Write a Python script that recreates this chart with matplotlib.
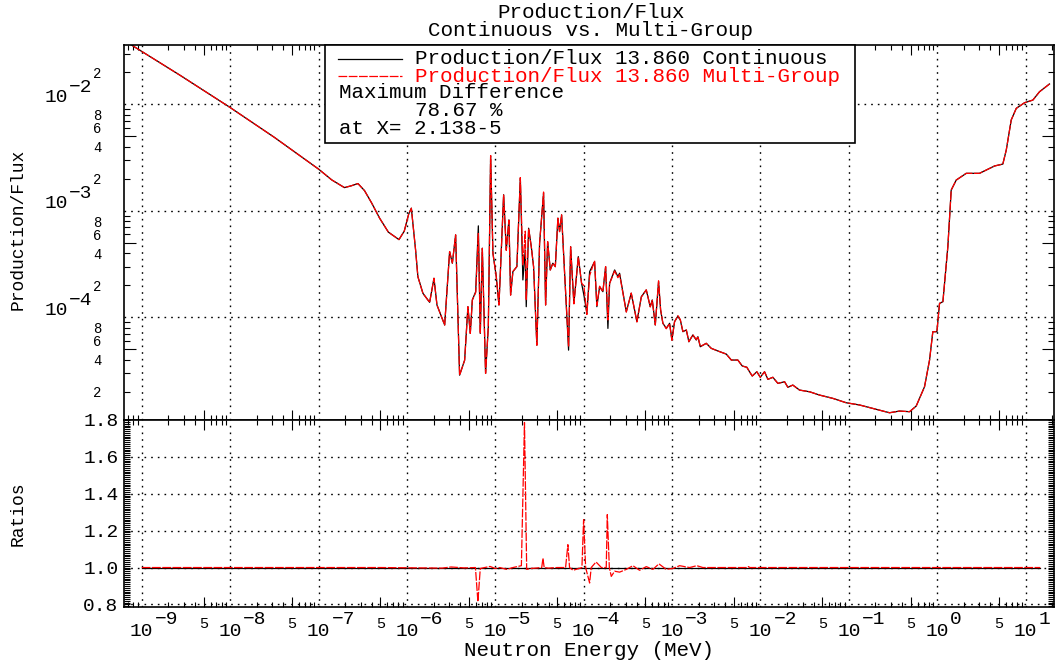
import numpy as np
import matplotlib
matplotlib.use("Agg")
import matplotlib.pyplot as plt
from matplotlib.ticker import FixedLocator, NullFormatter, FuncFormatter, MultipleLocator
from matplotlib.patches import Rectangle
from matplotlib.lines import Line2D

plt.rcParams['font.family'] = ['Liberation Mono', 'DejaVu Sans Mono']

# log10 of neutron energy (MeV) and of production/flux, continuous treatment
log_energy = [
    -9.20, -8.571, -8.0, -7.5, -7.0, -6.85, -6.707, -6.63, -6.554, -6.48,
    -6.40, -6.309, -6.21, -6.09, -6.03, -5.98, -5.950, -5.902, -5.876, -5.819,
    -5.743, -5.694, -5.66, -5.573, -5.517, -5.486, -5.449, -5.404, -5.347, -5.310,
    -5.283, -5.26, -5.222, -5.192, -5.170, -5.147, -5.110, -5.079, -5.053, -5.027,
    -4.989, -4.959, -4.94, -4.906, -4.876, -4.846, -4.827, -4.801, -4.756, -4.717,
    -4.688, -4.661, -4.650, -4.623, -4.593, -4.567, -4.530, -4.499, -4.454, -4.431,
    -4.408, -4.378, -4.349, -4.321, -4.292, -4.273, -4.250, -4.216, -4.171, -4.148,
    -4.111, -4.061, -4.024, -3.998, -3.964, -3.933, -3.877, -3.851, -3.820, -3.783,
    -3.752, -3.726, -3.707, -3.650, -3.613, -3.594, -3.518, -3.462, -3.398, -3.348,
    -3.292, -3.247, -3.224, -3.190, -3.153, -3.130, -3.104, -3.066, -3.028, -3.002,
    -2.972, -2.934, -2.907, -2.878, -2.839, -2.810, -2.765, -2.726, -2.708, -2.681,
    -2.613, -2.557, -2.482, -2.387, -2.330, -2.256, -2.206, -2.154, -2.124, -2.093,
    -2.041, -2.002, -1.954, -1.916, -1.860, -1.803, -1.727, -1.690, -1.634, -1.558,
    -1.444, -1.331, -1.181, -1.030, -0.879, -0.690, -0.540, -0.426, -0.313, -0.238,
    -0.144, -0.087, -0.050, -0.004, 0.026, 0.064, 0.120, 0.158, 0.215, 0.328,
    0.478, 0.554, 0.648, 0.742, 0.781, 0.837, 0.894, 0.988, 1.082, 1.157,
    1.270,
]
log_prod = [
    -1.40, -1.725, -2.03, -2.31, -2.608, -2.71, -2.782, -2.765, -2.744, -2.81,
    -2.925, -3.069, -3.20, -3.27, -3.19, -3.03, -2.975, -3.367, -3.618, -3.774,
    -3.859, -3.633, -3.884, -4.072, -3.383, -3.492, -3.226, -4.543, -4.402, -3.900,
    -4.151, -3.837, -3.759, -3.141, -4.151, -3.351, -4.527, -4.088, -2.483, -3.398,
    -3.618, -3.884, -3.524, -2.849, -3.367, -3.085, -3.790, -3.571, -3.524, -2.692,
    -3.649, -3.367, -3.900, -3.163, -3.336, -3.524, -4.261, -3.304, -2.834, -3.884,
    -3.289, -3.555, -3.492, -3.524, -3.069, -3.195, -3.038, -3.586, -4.308, -3.336,
    -3.868, -3.430, -3.680, -3.790, -3.962, -3.571, -3.477, -3.900, -3.712, -3.759,
    -3.524, -4.104, -3.680, -3.555, -3.618, -3.586, -3.947, -3.774, -4.041, -3.806,
    -3.743, -3.900, -3.837, -4.072, -3.665, -3.931, -4.056, -4.103, -4.056, -4.213,
    -4.041, -3.988, -4.025, -4.135, -4.119, -4.229, -4.166, -4.213, -4.182, -4.276,
    -4.244, -4.291, -4.316, -4.345, -4.401, -4.401, -4.457, -4.469, -4.511, -4.551,
    -4.511, -4.563, -4.511, -4.582, -4.563, -4.620, -4.605, -4.657, -4.636, -4.683,
    -4.699, -4.730, -4.761, -4.802, -4.823, -4.864, -4.896, -4.880, -4.886, -4.833,
    -4.652, -4.401, -4.135, -4.135, -3.869, -3.853, -3.337, -2.805, -2.711, -2.648,
    -2.648, -2.617, -2.579, -2.561, -2.429, -2.147, -2.038, -1.985, -1.960, -1.882,
    -1.809,
]

# multi-group / continuous ratio, log10 energy (MeV)
ratio_log_energy = [
    -9.0, -6.3, -5.6, -5.5, -5.35, -5.225, -5.197, -5.17, -5.12, -5.06,
    -5.0, -4.95, -4.87, -4.80, -4.705, -4.670, -4.645, -4.60, -4.52, -4.475,
    -4.461, -4.447, -4.40, -4.30, -4.205, -4.179, -4.16, -4.12, -4.02, -4.001,
    -3.978, -3.933, -3.915, -3.86, -3.80, -3.745, -3.733, -3.71, -3.688, -3.65,
    -3.594, -3.518, -3.443, -3.368, -3.292, -3.217, -3.149, -3.066, -2.991, -2.915,
    -2.802, -2.720, -2.652, -2.50, -2.15, -2.136, -2.12, 1.166,
]
ratio_vals = [
    1.0, 1.0, 0.997, 1.003, 0.998, 1.0, 0.815, 0.995, 1.0, 1.006,
    0.995, 1.0, 0.99, 1.0, 1.01, 1.7867, 0.99, 0.995, 0.998, 1.0,
    1.05, 1.0, 0.997, 1.0, 1.0, 1.124, 1.0, 0.985, 1.0, 1.26,
    1.0, 0.916, 1.0, 1.03, 1.0, 1.0, 1.287, 1.0, 0.952, 0.98,
    0.975, 0.99, 1.01, 0.985, 1.005, 0.99, 1.02, 0.99, 0.995, 1.01,
    1.0, 1.01, 1.0, 1.0, 1.0, 1.005, 1.0, 1.0,
]

series_labels = ['Production/Flux 13.860 Continuous',
                 'Production/Flux 13.860 Multi-Group']
max_diff_pct = 78.67
max_diff_at = '2.138-5'

W, H = 1058, 664
fig = plt.figure(figsize=(W / 100, H / 100), dpi=100)


def fx(px):
    return px / W


def fy(py):
    return 1 - py / H


ax1 = fig.add_axes([fx(124), fy(420), fx(1054) - fx(124), fy(45) - fy(420)])
ax2 = fig.add_axes([fx(124), fy(607), fx(1054) - fx(124), fy(420) - fy(607)])

energy = 10.0 ** np.array(log_energy)
prod_cont = 10.0 ** np.array(log_prod)
prod_mg = prod_cont * np.interp(log_energy, ratio_log_energy, ratio_vals)
ratio_energy = 10.0 ** np.array(ratio_log_energy)

dash = (7, 1.2)
dot_grid = dict(color='black', lw=1.0, ls=(0, (1.2, 3.6)), zorder=0.5)

# upper panel: production/flux
ax1.plot(energy, prod_cont, color='black', lw=0.9)
ax1.plot(energy, prod_mg, color='red', lw=0.9, dashes=dash)
ax1.set_xscale('log')
ax1.set_yscale('log')
ax1.set_ylim(10 ** -4.964, 10 ** -1.443)

# lower panel: ratios
ax2.plot(ratio_energy, np.ones_like(ratio_energy), color='black', lw=0.9)
ax2.plot(ratio_energy, ratio_vals, color='red', lw=0.9, dashes=dash)
ax2.set_xscale('log')
ax2.set_ylim(0.786, 1.80)

decades = np.arange(-10, 2)
x_fives = [5 * 10.0 ** n for n in decades]
x_minor = [m * 10.0 ** n for n in decades for m in (2, 3, 4, 6, 7, 8, 9)]

for ax in (ax1, ax2):
    ax.set_xlim(10 ** -9.201, 10 ** 1.321)
    ax.xaxis.set_major_locator(FixedLocator(x_fives))
    ax.xaxis.set_minor_locator(FixedLocator(x_minor))
    ax.xaxis.set_major_formatter(NullFormatter())
    ax.xaxis.set_minor_formatter(NullFormatter())
    ax.tick_params(axis='x', which='major', direction='in', length=7.5,
                   width=0.8, top=True, bottom=True)
    ax.tick_params(axis='x', which='minor', direction='in', length=3.6,
                   width=0.8, top=True, bottom=True)
    for n in range(-9, 2):
        ax.axvline(10.0 ** n, **dot_grid)
    for s in ax.spines.values():
        s.set_linewidth(1.2)

# y ticks, upper panel
y_decades = np.arange(-5, -1)
ax1.yaxis.set_major_locator(FixedLocator([5 * 10.0 ** n for n in y_decades]))
ax1.yaxis.set_minor_locator(FixedLocator(
    [m * 10.0 ** n for n in y_decades for m in (2, 3, 4, 6, 7, 8, 9)]))


def mantissa_label(v, pos):
    m = int(round(v / 10.0 ** np.floor(np.log10(v))))
    return str(m) if m in (2, 4, 6, 8) else ''


ax1.yaxis.set_major_formatter(NullFormatter())
ax1.yaxis.set_minor_formatter(FuncFormatter(mantissa_label))
ax1.tick_params(axis='y', which='major', direction='in', length=8.6,
                width=0.8, left=True, right=True)
ax1.tick_params(axis='y', which='minor', direction='in', length=4.3,
                width=0.8, left=True, right=True, pad=16, labelsize=10)
for n in (-4, -3, -2):
    ax1.axhline(10.0 ** n, **dot_grid)
    ax1.annotate('10', xy=(0, 10.0 ** n), xycoords=('axes fraction', 'data'),
                 xytext=(-56, 7), textcoords='offset pixels',
                 ha='right', va='center', fontsize=14)
    ax1.annotate('\u2212%d' % -n, xy=(0, 10.0 ** n),
                 xycoords=('axes fraction', 'data'),
                 xytext=(-55, 17), textcoords='offset pixels',
                 ha='left', va='center', fontsize=14)

# y ticks, lower panel
ax2.yaxis.set_major_locator(MultipleLocator(0.2))
ax2.yaxis.set_minor_locator(MultipleLocator(0.01))
ax2.yaxis.set_major_formatter(FuncFormatter(lambda v, pos: '%.1f' % v))
ax2.tick_params(axis='y', which='both', direction='in', length=4.3,
                width=0.8, left=True, right=True)
ax2.tick_params(axis='y', which='major', pad=4, labelsize=14)
for v in (0.8, 1.0, 1.2, 1.4, 1.6):
    ax2.axhline(v, **dot_grid)

# x tick labels: base "10" on the tick, exponent to its right, "5" between
for n in range(-9, 2):
    ax2.annotate('10', xy=(10.0 ** n, 0), xycoords=('data', 'axes fraction'),
                 xytext=(0, -24), textcoords='offset pixels',
                 ha='center', va='center', fontsize=14)
    exp = '\u2212%d' % -n if n < 0 else '%d' % n
    ax2.annotate(exp, xy=(10.0 ** n, 0), xycoords=('data', 'axes fraction'),
                 xytext=(13, -13), textcoords='offset pixels',
                 ha='left', va='center', fontsize=14)
for n in range(-9, 1):
    ax2.annotate('5', xy=(5 * 10.0 ** n, 0), xycoords=('data', 'axes fraction'),
                 xytext=(0, -17), textcoords='offset pixels',
                 ha='center', va='center', fontsize=11)

# titles and axis labels
fig.text(fx(591), fy(13), 'Production/Flux', ha='center', va='center', fontsize=15)
fig.text(fx(591), fy(31), 'Continuous vs. Multi-Group', ha='center', va='center',
         fontsize=15)
fig.text(fx(589), fy(651), 'Neutron Energy (MeV)', ha='center', va='center',
         fontsize=15)
fig.text(fx(18), fy(229), 'Production/Flux', rotation=90, ha='center',
         va='center', fontsize=13)
fig.text(fx(18), fy(514), 'Ratios', rotation=90, ha='center', va='center',
         fontsize=13)

# legend box
fig.add_artist(Rectangle((fx(325), fy(143)), fx(855) - fx(325), fy(45) - fy(143),
                         transform=fig.transFigure, facecolor='white',
                         edgecolor='black', lw=1.2, zorder=2))
fig.add_artist(Line2D([fx(338), fx(402)], [fy(59), fy(59)],
                      transform=fig.transFigure, color='black', lw=0.9, zorder=3))
fig.add_artist(Line2D([fx(338), fx(402)], [fy(76), fy(76)],
                      transform=fig.transFigure, color='red', lw=0.9,
                      dashes=dash, zorder=3))
fig.text(fx(415), fy(59), series_labels[0], ha='left', va='center',
         fontsize=15, zorder=4)
fig.text(fx(415), fy(76), series_labels[1], ha='left', va='center',
         fontsize=15, color='red', zorder=4)
fig.text(fx(339), fy(93), 'Maximum Difference', ha='left', va='center',
         fontsize=15, zorder=4)
fig.text(fx(415), fy(110), '%.2f %%' % max_diff_pct, ha='left', va='center',
         fontsize=15, zorder=4)
fig.text(fx(339), fy(128), 'at X= ' + max_diff_at, ha='left', va='center',
         fontsize=15, zorder=4)

fig.savefig('out.png', dpi=100)
